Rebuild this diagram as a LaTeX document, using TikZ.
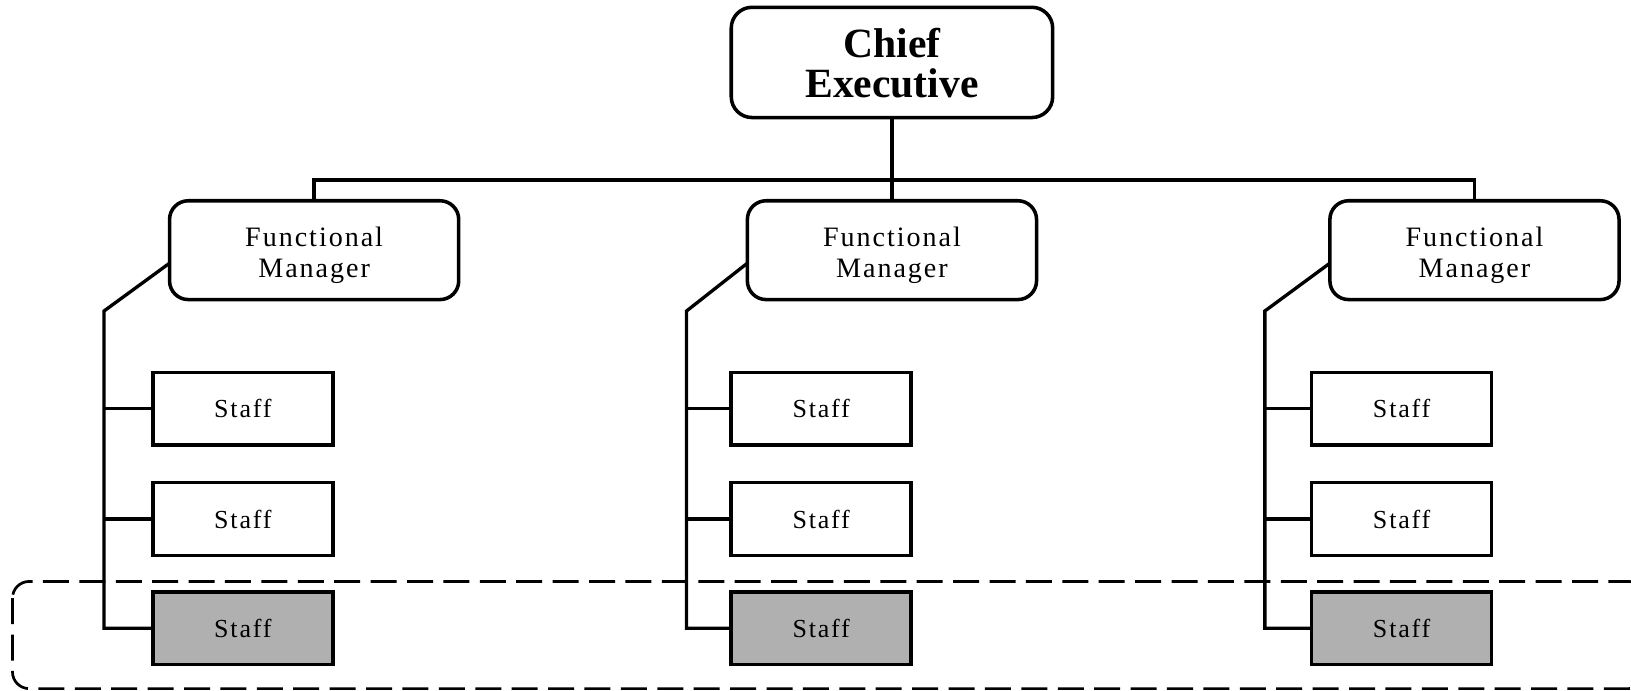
\documentclass[tikz,border=0pt]{standalone}
\usepackage{fontspec}
\setmainfont{Liberation Serif}
\newfontfamily\spacedfont[LetterSpace=7]{Liberation Serif}
\usetikzlibrary{calc}
\definecolor{staffgray}{RGB}{176,176,176}
\begin{document}
\begin{tikzpicture}[x=0.5pt,y=-0.5pt,
  chiefbox/.style={draw,line width=1.7pt,rounded corners=10pt,minimum width=154.5pt,minimum height=53pt,inner sep=0pt,outer sep=0pt},
  chieflabel/.style={align=center,yshift=-0.3pt,font=\fontsize{20}{19.5}\selectfont\bfseries},
  mgrbox/.style={draw,line width=1.7pt,rounded corners=9pt,minimum width=139pt,minimum height=47.5pt,inner sep=0pt,outer sep=0pt},
  mgrlabel/.style={align=center,yshift=-2.5pt,font=\fontsize{13.5}{14.5}\selectfont\spacedfont},
  staffbox/.style={draw,line width=1.7pt,minimum width=86.5pt,minimum height=35pt,inner sep=0pt,outer sep=0pt,font=\fontsize{12.5}{14.5}\selectfont\spacedfont},
  graybox/.style={staffbox,fill=staffgray},
  conn/.style={line width=1.6pt},
  grp/.style={line width=1.3pt,dash pattern=on 12.5pt off 5pt,rounded corners=8pt}]
\useasboundingbox (0,0) rectangle (1568,664);
% group frame
\draw[grp] (12,559) rectangle (1582,662);
% nodes
\node[chiefbox,label={[chieflabel]center:{Chief\\Executive}}] (ce) at (857.5,60) {};
\node[mgrbox,label={[mgrlabel]center:{Functional\\Manager}}] (m1) at (302,240.5) {};
\node[mgrbox,label={[mgrlabel]center:{Functional\\Manager}}] (m2) at (857.5,240.5) {};
\node[mgrbox,label={[mgrlabel]center:{Functional\\Manager}}] (m3) at (1417.5,240.5) {};
\foreach \i/\x in {1/233.5,2/789.5,3/1347.5}{
  \node[staffbox] (s\i1) at (\x,393) {Staff};
  \node[staffbox] (s\i2) at (\x,499) {Staff};
  \node[graybox]  (s\i3) at (\x,604) {Staff};
}
% top connectors
\coordinate (bar) at (857.5,173);
\draw[conn] (ce.south) -- (m2.north);
\draw[conn] (m1.north) -- (m1.north |- bar) -- (m3.north |- bar) -- (m3.north);
% branches
\coordinate (k1) at (100,299);
\coordinate (k2) at (660,299);
\coordinate (k3) at (1216,299);
\foreach \i in {1,2,3}{
  \draw[conn] ($(m\i.south west)+(0,-35)$) -- (k\i) -- (k\i |- s\i3.west) -- (s\i3.west);
  \draw[conn] (k\i |- s\i1.west) -- (s\i1.west);
  \draw[conn] (k\i |- s\i2.west) -- (s\i2.west);
}
\end{tikzpicture}
\end{document}
